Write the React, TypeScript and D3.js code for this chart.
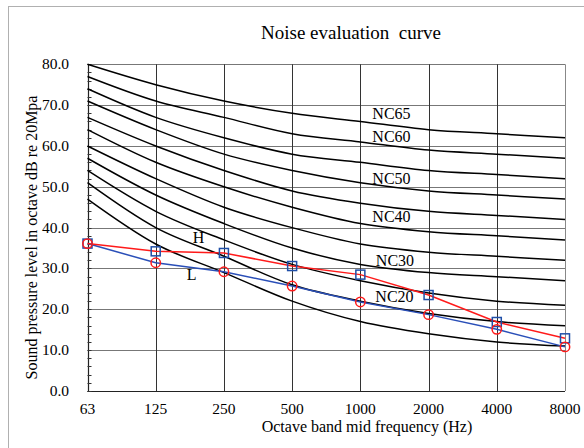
import React from "react";
import * as d3 from "d3";

const freqLabels = ["63", "125", "250", "500", "1000", "2000", "4000", "8000"];
const ncNames = ["NC15", "NC20", "NC25", "NC30", "NC35", "NC40", "NC45", "NC50", "NC55", "NC60", "NC65"];
const nc15 = [47, 36, 29, 22, 17, 14, 12, 11];
const nc20 = [51, 40, 33, 26, 22, 19, 17, 16];
const nc25 = [54, 44, 37, 31, 27, 24, 22, 21];
const nc30 = [57, 48, 41, 35, 31, 29, 28, 27];
const nc35 = [60, 52, 45, 40, 36, 34, 33, 32];
const nc40 = [64, 56, 50, 45, 41, 39, 38, 37];
const nc45 = [67, 60, 54, 49, 46, 44, 43, 42];
const nc50 = [71, 64, 58, 54, 51, 49, 48, 47];
const nc55 = [74, 67, 62, 58, 56, 54, 53, 52];
const nc60 = [77, 71, 67, 63, 61, 59, 58, 57];
const nc65 = [80, 75, 71, 68, 66, 64, 63, 62];
const ncCurves = [nc15, nc20, nc25, nc30, nc35, nc40, nc45, nc50, nc55, nc60, nc65];

const hSeries = [36.1, 34.2, 33.8, 30.6, 28.5, 23.5, 16.9, 12.9];
const lSeries = [36.1, 31.4, 29.2, 25.7, 21.8, 18.7, 15.1, 10.8];

const yTicks = [0, 10, 20, 30, 40, 50, 60, 70, 80];
const yMinor = d3.range(0, 81, 2);

// annotation labels: text, value (dB) for baseline, pixel offset from a frequency column
const ncLabelText = ["NC65", "NC60", "NC50", "NC40", "NC30", "NC20"];
const ncLabelValue = [66.5, 61.0, 50.8, 41.5, 30.7, 21.9];
const ncLabelDx = [12, 12, 12, 12, 15.5, 15];

const FONT = "'Liberation Serif', 'Times New Roman', serif";

export default function App() {
  const x = d3.scalePoint<string>().domain(freqLabels).range([87.5, 565]);
  const y = d3.scaleLinear().domain([0, 80]).range([391, 64.3]);
  const x0 = x("63")!;
  const x1 = x("8000")!;
  const curveGen = d3
    .line<number>()
    .x((_, i) => x(freqLabels[i])!)
    .y((d) => y(d))
    .curve(d3.curveCardinal.tension(0));
  const lineGen = d3
    .line<number>()
    .x((_, i) => x(freqLabels[i])!)
    .y((d) => y(d));

  return (
    <svg
      width={584}
      height={448}
      style={{ position: "absolute", left: 0, top: 0, background: "#fff" }}
      fontFamily={FONT}
    >
      <rect x={0} y={0} width={584} height={448} fill="#fff" />
      <rect x={8.5} y={6.5} width={700} height={600} fill="none" stroke="#b0b0b0" strokeWidth={1} />
      <text x={351} y={39} fontSize={19} textAnchor="middle" fill="#000" style={{ whiteSpace: "pre" }}>
        {"Noise evaluation  curve"}
      </text>

      {/* horizontal gridlines */}
      {yTicks.map((t) => (
        <line key={"h" + t} x1={x0} x2={x1} y1={Math.round(y(t)) + 0.5} y2={Math.round(y(t)) + 0.5} stroke="#777" strokeWidth={1} />
      ))}
      {/* vertical gridlines */}
      {freqLabels.map((f) => (
        <line key={"v" + f} x1={Math.round(x(f)!) + 0.5} x2={Math.round(x(f)!) + 0.5} y1={y(80)} y2={y(0)} stroke={f === "8000" ? "#888" : "#333"} strokeWidth={1} />
      ))}
      {/* axes */}
      <line x1={Math.round(x0) + 0.5} x2={Math.round(x0) + 0.5} y1={y(80)} y2={y(0)} stroke="#222" strokeWidth={1.2} />
      <line x1={x0} x2={x1} y1={Math.round(y(0)) + 0.5} y2={Math.round(y(0)) + 0.5} stroke="#222" strokeWidth={1.2} />
      {yMinor.map((t) => (
        <line key={"m" + t} x1={x0} x2={x0 + 4} y1={Math.round(y(t)) + 0.5} y2={Math.round(y(t)) + 0.5} stroke="#333" strokeWidth={1} />
      ))}
      {yTicks.map((t) => (
        <text key={"yt" + t} x={69} y={y(t) + 5} fontSize={15.5} textAnchor="end" fill="#000">
          {t.toFixed(1)}
        </text>
      ))}
      {freqLabels.map((f) => (
        <text key={"xt" + f} x={x(f)!} y={414} fontSize={15.5} textAnchor="middle" fill="#000">
          {f}
        </text>
      ))}
      <text x={367} y={432} fontSize={16} textAnchor="middle" fill="#000">
        Octave band mid frequency (Hz)
      </text>
      <text transform="translate(37,237.5) rotate(-90)" fontSize={16} textAnchor="middle" fill="#000">
        Sound pressure level in octave dB re 20Mpa
      </text>

      {/* NC curves */}
      {ncCurves.map((c, i) => (
        <path key={ncNames[i]} d={curveGen(c)!} fill="none" stroke="#000" strokeWidth={1.5} />
      ))}
      {ncLabelText.map((t, i) => (
        <text key={t} x={x("1000")! + ncLabelDx[i]} y={y(ncLabelValue[i])} fontSize={16} fill="#000">
          {t}
        </text>
      ))}
      <text x={192.7} y={y(36.3)} fontSize={16} fill="#000">H</text>
      <text x={186.7} y={y(27.2)} fontSize={16} fill="#000">L</text>

      {/* data series */}
      <path d={lineGen(lSeries)!} fill="none" stroke="#2a4fb8" strokeWidth={1.5} />
      <path d={lineGen(hSeries)!} fill="none" stroke="#ff1a1a" strokeWidth={1.5} />
      {hSeries.map((v, i) => (
        <rect key={"hs" + i} x={x(freqLabels[i])! - 4.5} y={y(v) - 4.5} width={9} height={9} fill="none" stroke="#1f4fa8" strokeWidth={1.5} />
      ))}
      {lSeries.map((v, i) => (
        <circle key={"lc" + i} cx={x(freqLabels[i])!} cy={y(v)} r={4.7} fill="none" stroke="#ff1a1a" strokeWidth={1.5} />
      ))}
    </svg>
  );
}
